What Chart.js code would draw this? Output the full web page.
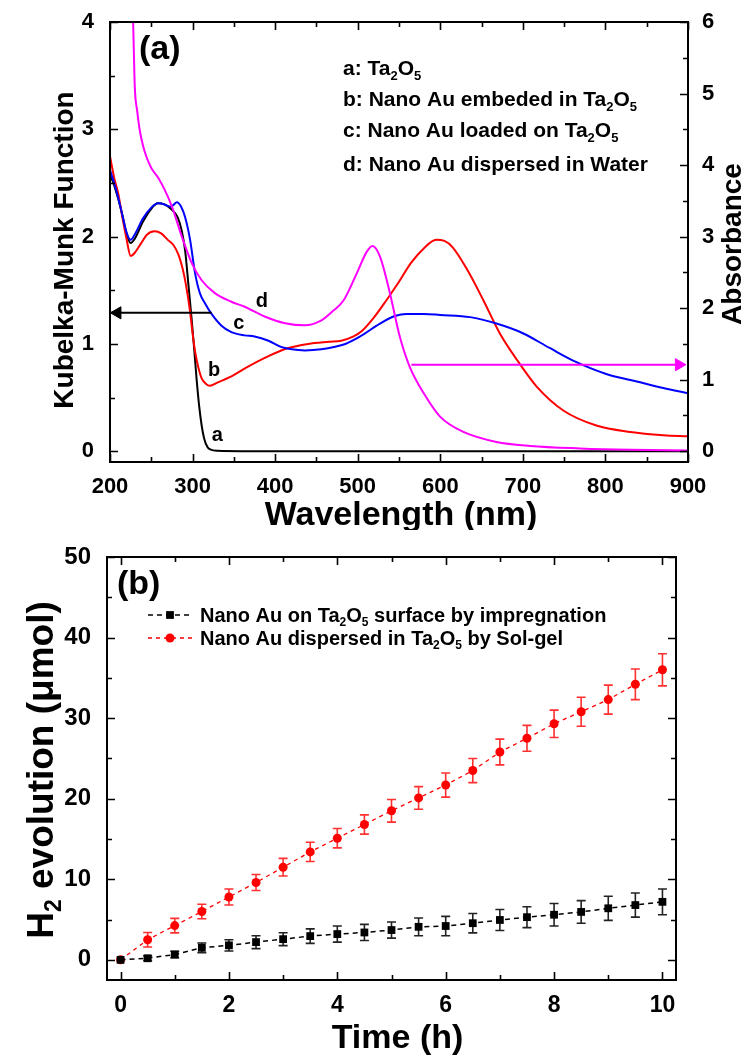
<!DOCTYPE html>
<html>
<head>
<meta charset="utf-8">
<script src="https://cdn.jsdelivr.net/npm/chart.js@4.4.1/dist/chart.umd.min.js"></script>
<style>
  html, body { margin: 0; padding: 0; background: #fff; }
  canvas { display: block; }
</style>
</head>
<body>
<canvas id="spectra" width="746" height="530"></canvas>
<canvas id="hydrogen" width="746" height="529"></canvas>
<script>
var FONT = "'Liberation Sans', Arial, Helvetica, sans-serif";

// ---- panel (a): Kubelka-Munk / absorbance spectra ----
var waveA = [200, 205, 210, 215, 220, 225, 230, 240, 250, 258, 266, 275, 282, 287, 291, 295, 299, 302, 305, 308, 311, 314, 318, 322, 330, 400, 500, 600, 700, 800, 900];
var kmA = [2.58, 2.48, 2.35, 2.2, 2.03, 1.94, 1.98, 2.14, 2.26, 2.31, 2.3, 2.25, 2.18, 2.05, 1.87, 1.55, 1.22, 0.95, 0.66, 0.42, 0.24, 0.12, 0.04, 0.015, 0.005, 0, 0, 0, 0, 0, 0];

var waveB = [200, 205, 210, 215, 220, 225, 230, 237, 245, 254, 262, 270, 277, 283, 288, 292, 297, 300, 303, 307, 311, 316, 321, 330, 345, 365, 390, 415, 440, 465, 480, 495, 505, 520, 535, 550, 565, 580, 595, 605, 615, 632, 652, 672, 693, 717, 749, 789, 830, 870, 900];
var kmB = [2.75, 2.55, 2.4, 2.18, 1.98, 1.82, 1.85, 1.93, 2.02, 2.05, 2.03, 1.97, 1.92, 1.83, 1.7, 1.55, 1.3, 1.1, 0.93, 0.78, 0.68, 0.63, 0.61, 0.64, 0.69, 0.78, 0.88, 0.96, 1.0, 1.02, 1.03, 1.07, 1.12, 1.25, 1.41, 1.58, 1.76, 1.89, 1.97, 1.96, 1.9, 1.7, 1.41, 1.1, 0.85, 0.6, 0.38, 0.24, 0.18, 0.15, 0.14];

var waveC = [200, 205, 210, 215, 220, 225, 230, 240, 250, 258, 266, 272, 276, 281, 286, 291, 297, 303, 309, 315, 323, 335, 347, 363, 375, 392, 408, 420, 436, 456, 470, 485, 503, 527, 545, 559, 580, 600, 636, 668, 700, 733, 765, 801, 838, 870, 900];
var kmC = [2.62, 2.5, 2.36, 2.2, 2.04, 1.97, 2.02, 2.17, 2.27, 2.31, 2.3, 2.28, 2.29, 2.32, 2.28, 2.18, 1.97, 1.66, 1.47, 1.38, 1.28, 1.17, 1.11, 1.08, 1.07, 1.03, 0.97, 0.95, 0.94, 0.95, 0.97, 1.0, 1.07, 1.19, 1.26, 1.28, 1.28, 1.27, 1.25, 1.19, 1.1, 0.96, 0.83, 0.72, 0.65, 0.59, 0.54];

var waveD = [224, 228, 230, 233, 236, 240, 244, 250, 258, 266, 275, 287, 299, 311, 327, 347, 363, 388, 412, 436, 456, 470, 483, 499, 511, 518, 527, 539, 551, 563, 580, 600, 628, 668, 709, 769, 830, 900];
var absD = [7.2, 6.0, 5.1, 4.75, 4.49, 4.27, 4.12, 3.96, 3.83, 3.66, 3.42, 3.0, 2.63, 2.39, 2.21, 2.09, 2.02, 1.88, 1.79, 1.76, 1.83, 1.96, 2.11, 2.49, 2.79, 2.87, 2.72, 2.21, 1.6, 1.18, 0.81, 0.48, 0.27, 0.13, 0.075, 0.04, 0.02, 0.01];

// arrows showing which axis each curve belongs to
var arrowKmX = [200, 323];
var arrowKmY = [1.29, 1.29];
var arrowAbsX = [565, 889];
var arrowAbsY = [1.21, 1.21];

var curveTags = ['a', 'b', 'c', 'd'];
var curveTagX = [330, 326, 356, 384];
var curveTagY = [0.15, 0.75, 1.19, 1.4];

var spectraLegend = [
  [['a: Ta', 0], ['2', 1], ['O', 0], ['5', 1]],
  [['b: Nano Au embeded in Ta', 0], ['2', 1], ['O', 0], ['5', 1]],
  [['c: Nano Au loaded on Ta', 0], ['2', 1], ['O', 0], ['5', 1]],
  [['d: Nano Au dispersed in Water', 0]]
];

// ---- panel (b): H2 evolution ----
var hours = [0, 0.5, 1, 1.5, 2, 2.5, 3, 3.5, 4, 4.5, 5, 5.5, 6, 6.5, 7, 7.5, 8, 8.5, 9, 9.5, 10];
var h2Impreg = [0, 0.2, 0.66, 1.5, 1.8, 2.2, 2.57, 2.95, 3.2, 3.4, 3.7, 4.1, 4.2, 4.55, 4.95, 5.3, 5.6, 5.95, 6.4, 6.8, 7.2];
var errImpreg = [0, 0.3, 0.4, 0.6, 0.7, 0.8, 0.8, 0.9, 1.0, 1.0, 1.0, 1.1, 1.2, 1.2, 1.3, 1.3, 1.4, 1.4, 1.5, 1.5, 1.6];
var h2SolGel = [0, 2.5, 4.25, 6.0, 7.8, 9.6, 11.5, 13.4, 15.1, 16.8, 18.5, 20.1, 21.7, 23.5, 25.8, 27.5, 29.3, 30.8, 32.3, 34.2, 36.0];
var errSolGel = [0, 0.9, 0.9, 0.9, 1.0, 1.0, 1.1, 1.2, 1.2, 1.2, 1.4, 1.4, 1.5, 1.5, 1.6, 1.6, 1.7, 1.8, 1.8, 1.9, 2.0];

var h2Legend = [
  [['Nano Au on Ta', 0], ['2', 1], ['O', 0], ['5', 1], [' surface by impregnation', 0]],
  [['Nano Au dispersed in Ta', 0], ['2', 1], ['O', 0], ['5', 1], [' by Sol-gel', 0]]
];

function pts(xs, ys) {
  return xs.map(function(x, i) { return { x: x, y: ys[i] }; });
}

function majorOnly(step) {
  return function(v) {
    var r = v / step;
    return Math.abs(r - Math.round(r)) < 1e-6 ? String(Math.round(v * 100) / 100) : '';
  };
}

function richWidth(ctx, parts, size) {
  var w = 0;
  parts.forEach(function(p) {
    ctx.font = 'bold ' + (p[1] ? Math.round(size * 0.62) : size) + 'px ' + FONT;
    w += ctx.measureText(p[0]).width;
  });
  return w;
}

function drawRich(ctx, parts, x, y, size) {
  ctx.textBaseline = 'alphabetic';
  ctx.textAlign = 'left';
  parts.forEach(function(p) {
    ctx.font = 'bold ' + (p[1] ? Math.round(size * 0.62) : size) + 'px ' + FONT;
    ctx.fillText(p[0], x, p[1] ? y + size * 0.22 : y);
    x += ctx.measureText(p[0]).width;
  });
  return x;
}

function drawTitle(ctx, parts, cx, cy, size, vertical) {
  ctx.save();
  ctx.fillStyle = '#000';
  ctx.translate(cx, cy);
  if (vertical) ctx.rotate(-Math.PI / 2);
  var w = richWidth(ctx, parts, size);
  drawRich(ctx, parts, -w / 2, size * 0.36, size);
  ctx.restore();
}

// box around the plot with short inward tick marks on every side
var framePlugin = {
  id: 'frame',
  afterDraw: function(chart) {
    var ctx = chart.ctx, a = chart.chartArea;
    ctx.save();
    ctx.strokeStyle = '#000';
    ctx.lineWidth = 2;
    ctx.strokeRect(a.left, a.top, a.right - a.left, a.bottom - a.top);
    ctx.lineWidth = 1.6;
    ctx.beginPath();
    var xs = chart.scales.x;
    xs.ticks.forEach(function(t) {
      var p = Math.round(xs.getPixelForValue(t.value)) + 0.5;
      var len = t.label !== '' ? 8 : 5;
      ctx.moveTo(p, a.bottom); ctx.lineTo(p, a.bottom - len);
      ctx.moveTo(p, a.top); ctx.lineTo(p, a.top + len);
    });
    var ys = chart.scales.y;
    var yr = chart.scales.y2 || ys;
    ys.ticks.forEach(function(t) {
      var p = Math.round(ys.getPixelForValue(t.value)) + 0.5;
      ctx.moveTo(a.left, p); ctx.lineTo(a.left + (t.label !== '' ? 8 : 5), p);
    });
    yr.ticks.forEach(function(t) {
      var p = Math.round(yr.getPixelForValue(t.value)) + 0.5;
      ctx.moveTo(a.right, p); ctx.lineTo(a.right - (t.label !== '' ? 8 : 5), p);
    });
    ctx.stroke();
    ctx.restore();
  }
};

function axisOpts(min, max, step, label, size, pad, fit) {
  return {
    type: 'linear',
    min: min,
    max: max,
    grid: { display: false },
    border: { display: false },
    ticks: {
      stepSize: step,
      includeBounds: false,
      autoSkip: false,
      maxRotation: 0,
      padding: pad,
      color: '#000',
      font: { family: FONT, size: size, weight: 'bold' },
      callback: majorOnly(label)
    },
    afterFit: fit
  };
}

// ---------------- chart (a) ----------------
var spectraText = {
  id: 'spectraText',
  afterDraw: function(chart) {
    var ctx = chart.ctx, xs = chart.scales.x, ys = chart.scales.y;
    ctx.save();
    ctx.fillStyle = '#000';
    ctx.font = 'bold 34px ' + FONT;
    ctx.textAlign = 'left';
    ctx.textBaseline = 'middle';
    ctx.fillText('(a)', 139, 50);

    var rowBase = [75, 106, 137, 171];
    spectraLegend.forEach(function(parts, i) {
      drawRich(ctx, parts, 343, rowBase[i], 21);
    });

    ctx.font = 'bold 20px ' + FONT;
    ctx.textAlign = 'center';
    ctx.textBaseline = 'middle';
    curveTags.forEach(function(t, i) {
      ctx.fillText(t, xs.getPixelForValue(curveTagX[i]), ys.getPixelForValue(curveTagY[i]));
    });
    ctx.restore();

    drawTitle(ctx, [['Kubelka-Munk Function', 0]], 63, 250, 28, true);
    drawTitle(ctx, [['Absorbance', 0]], 731, 244, 28, true);
    drawTitle(ctx, [['Wavelength (nm)', 0]], 401, 513, 34, false);
  }
};

function lineSet(data, color, axis) {
  return {
    data: data,
    yAxisID: axis,
    borderColor: color,
    backgroundColor: color,
    borderWidth: 2,
    pointRadius: 0,
    cubicInterpolationMode: 'monotone',
    tension: 0.4
  };
}

function arrowSet(data, color, axis, radii, rot) {
  return {
    data: data,
    yAxisID: axis,
    borderColor: color,
    backgroundColor: color,
    borderWidth: 2,
    pointRadius: radii,
    pointStyle: 'triangle',
    pointRotation: rot,
    pointBackgroundColor: color,
    pointBorderColor: color,
    pointBorderWidth: 1,
    clip: false
  };
}

new Chart(document.getElementById('spectra'), {
  type: 'line',
  data: {
    datasets: [
      arrowSet(pts(arrowKmX, arrowKmY), '#000000', 'y', [0, 0], 0),
      arrowSet(pts([209], [arrowKmY[0]]), '#000000', 'y', [7], 270),
      arrowSet(pts(arrowAbsX, arrowAbsY), '#ff00ff', 'y2', [0, 7], 90),
      lineSet(pts(waveD, absD), '#ff00ff', 'y2'),
      lineSet(pts(waveC, kmC), '#0000ff', 'y'),
      lineSet(pts(waveB, kmB), '#ff0000', 'y'),
      lineSet(pts(waveA, kmA), '#000000', 'y')
    ]
  },
  options: {
    responsive: false,
    animation: false,
    layout: { padding: { top: 22, left: 0, right: 0, bottom: 0 } },
    plugins: { legend: { display: false }, tooltip: { enabled: false } },
    scales: {
      x: axisOpts(200, 900, 50, 100, 22, 4, function(s) { s.height = 68; }),
      y: Object.assign(axisOpts(-0.1, 4, 0.5, 1, 22, 8, function(s) { s.width = 110; }), { position: 'left' }),
      y2: Object.assign(axisOpts(-0.15, 6, 0.5, 1, 22, 6, function(s) { s.width = 58; }), { position: 'right' })
    }
  },
  plugins: [framePlugin, spectraText]
});

// ---------------- chart (b) ----------------
var errorBars = {
  id: 'errorBars',
  beforeDatasetsDraw: function(chart) {
    var ctx = chart.ctx, xs = chart.scales.x, ys = chart.scales.y;
    ctx.save();
    chart.data.datasets.forEach(function(ds) {
      if (!ds.errors) return;
      ctx.strokeStyle = ds.errorColor;
      ctx.lineWidth = 1.6;
      ctx.beginPath();
      ds.data.forEach(function(p, i) {
        var e = ds.errors[i];
        if (!e) return;
        var x = xs.getPixelForValue(p.x);
        var y1 = ys.getPixelForValue(p.y - e), y2 = ys.getPixelForValue(p.y + e);
        ctx.moveTo(x, y1); ctx.lineTo(x, y2);
        ctx.moveTo(x - 4.5, y1); ctx.lineTo(x + 4.5, y1);
        ctx.moveTo(x - 4.5, y2); ctx.lineTo(x + 4.5, y2);
      });
      ctx.stroke();
    });
    ctx.restore();
  }
};

var h2Text = {
  id: 'h2Text',
  afterDraw: function(chart) {
    var ctx = chart.ctx;
    ctx.save();
    ctx.fillStyle = '#000';
    ctx.font = 'bold 34px ' + FONT;
    ctx.textAlign = 'left';
    ctx.textBaseline = 'middle';
    ctx.fillText('(b)', 117, 55);

    var rows = [85, 108];
    chart.data.datasets.forEach(function(ds, i) {
      var y = rows[i];
      ctx.strokeStyle = ds.borderColor;
      ctx.lineWidth = ds.borderWidth;
      ctx.setLineDash(ds.borderDash);
      ctx.beginPath();
      ctx.moveTo(148, y); ctx.lineTo(193, y);
      ctx.stroke();
      ctx.setLineDash([]);
      ctx.fillStyle = ds.pointBackgroundColor;
      Chart.helpers.drawPoint(ctx, { pointStyle: ds.pointStyle, radius: ds.pointRadius, borderWidth: 0, rotation: 0 }, 170, y);
      ctx.fillStyle = '#000';
      drawRich(ctx, h2Legend[i], 200, y + 7, 20);
    });
    ctx.restore();

    drawTitle(ctx, [['H', 0], ['2', 1], [' evolution (\u03bcmol)', 0]], 40, 240, 37, true);
    var a = chart.chartArea;
    drawTitle(ctx, [['Time (h)', 0]], (a.left + a.right) / 2 + 6, 506, 34, false);
  }
};

new Chart(document.getElementById('hydrogen'), {
  type: 'line',
  data: {
    datasets: [
      {
        data: pts(hours, h2Impreg),
        errors: errImpreg,
        errorColor: '#222222',
        borderColor: '#000000',
        borderWidth: 1.5,
        borderDash: [5, 4],
        pointStyle: 'rect',
        pointRadius: 5.5,
        pointBackgroundColor: '#000000',
        pointBorderWidth: 0,
        tension: 0
      },
      {
        data: pts(hours, h2SolGel),
        errors: errSolGel,
        errorColor: '#ff3030',
        borderColor: '#ff0000',
        borderWidth: 1.3,
        borderDash: [4, 4],
        pointStyle: 'circle',
        pointRadius: 4.5,
        pointBackgroundColor: '#ff0000',
        pointBorderWidth: 0,
        tension: 0
      }
    ]
  },
  options: {
    responsive: false,
    animation: false,
    layout: { padding: { top: 27, left: 0, right: 70, bottom: 0 } },
    plugins: { legend: { display: false }, tooltip: { enabled: false } },
    scales: {
      x: axisOpts(-0.25, 10.25, 1, 2, 23, 4, function(s) { s.height = 79; }),
      y: Object.assign(axisOpts(-2.5, 50, 5, 10, 24, 8, function(s) { s.width = 107; }), { position: 'left' })
    }
  },
  plugins: [framePlugin, errorBars, h2Text]
});
</script>
</body>
</html>
